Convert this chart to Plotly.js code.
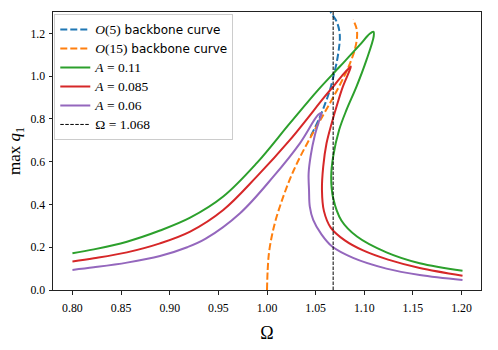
<!DOCTYPE html>
<html>
<head>
<meta charset="utf-8">
<script src="https://cdn.plot.ly/plotly-3.0.1.min.js"></script>
<style>html,body{margin:0;padding:0;background:#fff;}#chart{width:498px;height:350px;}</style>
</head>
<body>
<div id="chart"></div>
<script>
// Backbone curves
const o5X = [1.045, 1.0535, 1.0605, 1.0650, 1.0690, 1.0715, 1.0740, 1.0749, 1.0742, 1.0715, 1.0672, 1.0652];
const o5Y = [0.720, 0.800, 0.880, 0.940, 1.013, 1.061, 1.131, 1.178, 1.216, 1.256, 1.287, 1.300];
const o15X = [1.0, 1.0007, 1.002, 1.0048, 1.0089, 1.0144, 1.0205, 1.0275, 1.0360, 1.0455, 1.0555, 1.0655, 1.0750, 1.0835, 1.0900, 1.0925, 1.0922, 1.0885];
const o15Y = [0.0, 0.094, 0.172, 0.249, 0.327, 0.406, 0.483, 0.560, 0.640, 0.720, 0.800, 0.880, 0.960, 1.040, 1.120, 1.180, 1.220, 1.265];
// Frequency response curves
const a011X = [0.80, 0.822, 0.856, 0.890, 0.921, 0.955, 0.9894, 1.0236, 1.0526, 1.0749, 1.0954, 1.1056, 1.1095, 1.1097, 1.1023, 1.092, 1.0817, 1.0742, 1.068, 1.066, 1.068, 1.0765, 1.0925, 1.1228, 1.157, 1.201];
const a011Y = [0.172, 0.190, 0.226, 0.278, 0.338, 0.437, 0.593, 0.780, 0.936, 1.045, 1.146, 1.198, 1.207, 1.186, 1.076, 0.951, 0.842, 0.749, 0.624, 0.530, 0.430, 0.325, 0.250, 0.176, 0.125, 0.090];
const a085X = [0.80, 0.822, 0.856, 0.890, 0.921, 0.955, 0.9894, 1.0236, 1.0595, 1.070, 1.079, 1.0845, 1.0862, 1.0845, 1.078, 1.0715, 1.0665, 1.0612, 1.0578, 1.0565, 1.0585, 1.0655, 1.080, 1.0988, 1.1245, 1.157, 1.201];
const a085Y = [0.133, 0.148, 0.176, 0.218, 0.273, 0.374, 0.530, 0.702, 0.905, 0.962, 1.012, 1.038, 1.045, 1.022, 0.951, 0.858, 0.780, 0.686, 0.577, 0.468, 0.370, 0.292, 0.232, 0.185, 0.142, 0.103, 0.067];
const a06X = [0.80, 0.822, 0.856, 0.890, 0.918, 0.937, 0.9723, 1.0065, 1.0338, 1.0526, 1.056, 1.0535, 1.049, 1.045, 1.0428, 1.0432, 1.044, 1.0475, 1.056, 1.067, 1.0885, 1.1228, 1.157, 1.201];
const a06Y = [0.094, 0.106, 0.128, 0.159, 0.200, 0.240, 0.359, 0.530, 0.686, 0.819, 0.827, 0.790, 0.720, 0.630, 0.546, 0.468, 0.390, 0.328, 0.260, 0.203, 0.150, 0.100, 0.070, 0.047];
// Reference frequency line
const omegaRef = 1.068;
const omegaLineX = [omegaRef, omegaRef];
const omegaLineY = [0, 1.30];

const sp = (t) => '<span style="font-family:Liberation Serif;font-size:13.5px">' + t + '</span>';
const names = [
  sp('<i>O</i>(5)') + ' backbone curve',
  sp('<i>O</i>(15)') + ' backbone curve',
  sp('<i>A</i> = 0.11'),
  sp('<i>A</i> = 0.085'),
  sp('<i>A</i> = 0.06'),
  sp('Ω = 1.068')
];

const traces = [
  {x: o5X, y: o5Y, name: names[0], mode: 'lines', line: {color: '#1f77b4', width: 2, dash: '7px,3px', shape: 'spline'}},
  {x: o15X, y: o15Y, name: names[1], mode: 'lines', line: {color: '#ff7f0e', width: 2, dash: '7px,3px', shape: 'spline'}},
  {x: a011X, y: a011Y, name: names[2], mode: 'lines', line: {color: '#2ca02c', width: 2, shape: 'spline'}},
  {x: a085X, y: a085Y, name: names[3], mode: 'lines', line: {color: '#d62728', width: 2, shape: 'spline'}},
  {x: a06X, y: a06Y, name: names[4], mode: 'lines', line: {color: '#9467bd', width: 2, shape: 'spline'}},
  {x: omegaLineX, y: omegaLineY, name: names[5], mode: 'lines', line: {color: '#000000', width: 1, dash: '3.5px,1.5px'}}
];

const serif = 'Liberation Serif, DejaVu Serif, serif';
const layout = {
  width: 498, height: 350,
  margin: {l: 53, r: 17, t: 12, b: 60},
  paper_bgcolor: '#fff', plot_bgcolor: '#fff',
  font: {family: 'DejaVu Sans, sans-serif', size: 12, color: '#000'},
  showlegend: true,
  legend: {x: 0.003, y: 0.993, xanchor: 'left', yanchor: 'top', bgcolor: 'rgba(255,255,255,0.8)', bordercolor: '#cccccc', borderwidth: 1, font: {family: 'DejaVu Sans, sans-serif', size: 12, color: '#000'}, tracegroupgap: 0},
  xaxis: {
    range: [0.78, 1.22], tickmode: 'linear', tick0: 0.8, dtick: 0.05, tickformat: '.2f',
    showgrid: false, zeroline: false, showline: true, mirror: true, linecolor: '#222', linewidth: 1,
    ticks: 'outside', ticklen: 3.5, tickwidth: 1, tickcolor: '#222', ticklabelstandoff: 3,
    tickfont: {family: serif, size: 11.8, color: '#000'},
    title: {text: 'Ω', font: {family: serif, size: 18, color: '#000'}, standoff: 12}
  },
  yaxis: {
    range: [0, 1.30], tickmode: 'linear', tick0: 0, dtick: 0.2, tickformat: '.1f',
    showgrid: false, zeroline: false, showline: true, mirror: true, linecolor: '#222', linewidth: 1,
    ticks: 'outside', ticklen: 3.5, tickwidth: 1, tickcolor: '#222', ticklabelstandoff: 1,
    tickfont: {family: serif, size: 11.8, color: '#000'},
    title: {text: 'max <i>q</i><sub>1</sub>', font: {family: serif, size: 17, color: '#000'}, standoff: 5}
  }
};

Plotly.newPlot('chart', traces, layout, {staticPlot: true, displayModeBar: false});
</script>
</body>
</html>
